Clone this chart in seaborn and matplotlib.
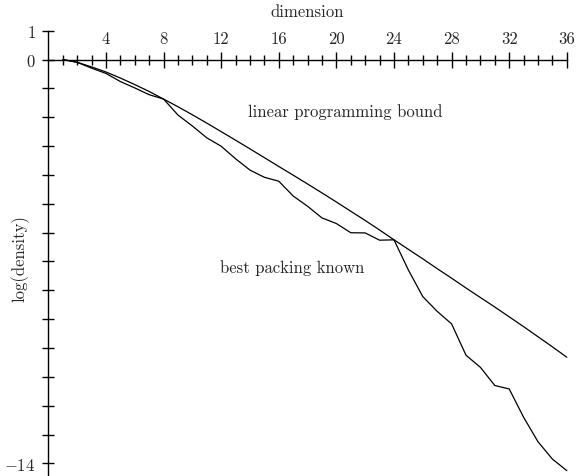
import numpy as np
import pandas as pd
import matplotlib
matplotlib.use("Agg")
import matplotlib.pyplot as plt
import seaborn as sns

# ---- data (natural log of density) ----
dims = list(range(1, 37))
lp_bound = [0.0, -0.098, -0.257, -0.434, -0.643, -0.869, -1.109, -1.372,
            -1.638, -1.917, -2.205, -2.500, -2.798, -3.099, -3.403, -3.708,
            -4.010, -4.315, -4.625, -4.940, -5.260, -5.580, -5.910, -6.250,
            -6.580, -6.910, -7.250, -7.580, -7.920, -8.250, -8.580, -8.920,
            -9.260, -9.610, -9.960, -10.320]
best_known = [0.0, -0.098, -0.300, -0.483, -0.765, -0.986, -1.220, -1.372,
              -1.926, -2.306, -2.715, -3.007, -3.442, -3.834, -4.083, -4.219,
              -4.732, -5.088, -5.492, -5.686, -6.005, -6.011, -6.263, -6.251,
              -7.298, -8.220, -8.730, -9.165, -10.250, -10.670, -11.300, -11.420,
              -12.400, -13.250, -13.850, -14.250]
x_major = [4, 8, 12, 16, 20, 24, 28, 32, 36]
y_ticks = list(range(1, -15, -1))
y_labels = {1: "$1$", 0: "$0$", -14: "$-14$"}

df = pd.DataFrame({"dimension": dims, "lp": lp_bound, "best": best_known})

sns.set_theme(style="white")
plt.rcParams["font.family"] = ["cmr10", "DejaVu Serif"]
plt.rcParams["mathtext.fontset"] = "cm"
plt.rcParams["axes.unicode_minus"] = False

FS = 12

fig = plt.figure(figsize=(5.78, 4.77), dpi=100)
ax = fig.add_axes([48.4 / 578, 0.0, 518.4 / 578, 1 - 31.65 / 477])

sns.lineplot(data=df, x="dimension", y="lp", ax=ax, color="black",
             linewidth=0.9, clip_on=False)
sns.lineplot(data=df, x="dimension", y="best", ax=ax, color="black",
             linewidth=0.9, clip_on=False)

ax.set_xlim(0, 36)
ax.set_ylim(-(477 - 60.5) / 28.85, 1)

for s in ["right", "bottom"]:
    ax.spines[s].set_visible(False)
ax.spines["top"].set_position(("data", 0))
ax.spines["top"].set_bounds(0, 36)
ax.spines["left"].set_bounds(ax.get_ylim()[0], 1)
for s in ["top", "left"]:
    ax.spines[s].set_color("black")
    ax.spines[s].set_linewidth(1.0)

ax.xaxis.tick_top()
ax.set_xticks(x_major)
ax.set_xticklabels([str(v) for v in x_major], fontsize=FS)
ax.set_xticks([d for d in dims if d % 4 != 0], minor=True)
ax.tick_params(axis="x", which="major", direction="inout", length=12,
               width=1.0, color="black", pad=3.4, top=True, bottom=False)
ax.tick_params(axis="x", which="minor", direction="inout", length=7.2,
               width=1.0, color="black", top=True, bottom=False)

ax.set_yticks(y_ticks)
ax.set_yticklabels([y_labels.get(v, "") for v in y_ticks], fontsize=FS)
ax.tick_params(axis="y", which="major", direction="inout", length=8.2,
               width=1.0, color="black", pad=5.2, left=True)

ax.set_xlabel("")
ax.set_ylabel("")
ax.text(18, 1.68, "dimension", ha="center", va="center", fontsize=FS,
        clip_on=False)
ax.text(-1.97, -6.88, "log(density)", ha="center", va="center",
        rotation=90, fontsize=FS, clip_on=False)
ax.text(20.6, -1.775, "linear programming bound", ha="center", va="center",
        fontsize=FS)
ax.text(16.96, -7.19, "best packing known", ha="center", va="center",
        fontsize=FS)

ax.set_facecolor("white")
fig.patch.set_facecolor("white")
fig.savefig("out.png", dpi=100)
